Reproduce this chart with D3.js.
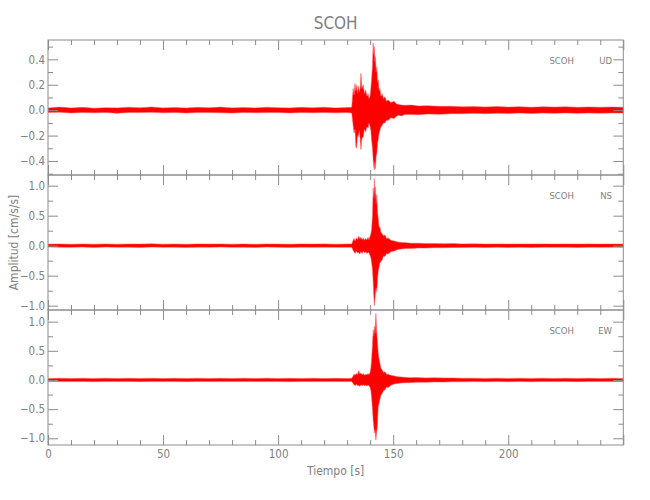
<!DOCTYPE html>
<html>
<head>
<meta charset="utf-8">
<script src="https://cdn.jsdelivr.net/npm/d3@7"></script>
<style>
  html, body { margin: 0; padding: 0; background: #fff; }
  svg { display: block; }
</style>
</head>
<body>
<svg id="chart" width="650" height="500"></svg>
<script>
// ---------------- data ----------------
const title = "SCOH";
const station = "SCOH";
const components = ["UD", "NS", "EW"];
const xTitle = "Tiempo [s]";
const yTitle = "Amplitud [cm/s/s]";
const xDomain = [0, 250];
const xTickLabels = [0, 50, 100, 150, 200];
const xMajorTicks = [0, 50, 100, 150, 200, 250];
const xMinorStep = 10;

const udDomain = [-0.51, 0.552];
const nsDomain = [-1.072, 1.178];
const ewDomain = [-1.115, 1.2];
const udTicks = [-0.4, -0.2, 0.0, 0.2, 0.4];
const nsTicks = [-1.0, -0.5, 0.0, 0.5, 1.0];
const ewTicks = [-1.0, -0.5, 0.0, 0.5, 1.0];
const udMinor = [-0.5, -0.3, -0.1, 0.1, 0.3, 0.5];
const nsMinor = [-0.75, -0.25, 0.25, 0.75];
const ewMinor = [-0.75, -0.25, 0.25, 0.75];

// envelopes: [time s, upper, lower]
const udEnvelope = [
  [0,0.018,-0.018],[5,0.024,-0.016],[10,0.018,-0.022],[15,0.022,-0.018],[20,0.016,-0.02],
  [25,0.02,-0.018],[30,0.018,-0.024],[35,0.023,-0.018],[40,0.019,-0.019],[45,0.025,-0.017],
  [50,0.018,-0.021],[55,0.021,-0.018],[60,0.017,-0.022],[65,0.022,-0.019],[70,0.019,-0.018],
  [75,0.024,-0.02],[80,0.018,-0.023],[85,0.021,-0.018],[90,0.018,-0.02],[95,0.023,-0.019],
  [100,0.02,-0.018],[105,0.018,-0.022],[110,0.022,-0.018],[115,0.019,-0.02],[120,0.023,-0.018],
  [125,0.018,-0.021],[130,0.021,-0.019],[132,0.023,-0.022],
  [132.6,0.17,-0.12],[133,0.12,-0.18],[133.4,0.21,-0.15],[133.8,0.15,-0.29],[134.1,0.2,-0.3],
  [134.5,0.13,-0.2],[134.8,0.19,-0.21],[135.3,0.14,-0.16],[135.7,0.18,-0.24],[136,0.29,-0.31],
  [136.4,0.17,-0.22],[137,0.2,-0.21],[137.5,0.13,-0.15],[138,0.16,-0.17],[138.6,0.11,-0.13],
  [139.1,0.13,-0.14],[139.5,0.09,-0.1],[139.9,0.105,-0.12],[140.3,0.17,-0.16],[140.6,0.24,-0.23],
  [141,0.35,-0.3],[141.3,0.53,-0.39],[141.6,0.44,-0.45],[141.8,0.5,-0.47],[142.1,0.38,-0.41],
  [142.3,0.42,-0.46],[142.6,0.3,-0.36],[142.9,0.34,-0.34],[143.2,0.22,-0.26],[143.5,0.24,-0.23],
  [143.9,0.15,-0.18],[144.2,0.17,-0.16],[144.7,0.11,-0.13],[145.2,0.13,-0.12],[145.8,0.09,-0.1],
  [146.4,0.105,-0.1],[147.1,0.07,-0.08],[147.8,0.08,-0.08],[149,0.06,-0.06],[150.4,0.07,-0.065],
  [151.3,0.05,-0.05],[152.2,0.045,-0.04],[153.6,0.04,-0.045],[155,0.038,-0.035],[158,0.04,-0.035],
  [161,0.033,-0.036],[165,0.035,-0.03],[170,0.03,-0.033],[175,0.031,-0.028],[180,0.026,-0.028],
  [185,0.028,-0.025],[190,0.025,-0.028],[195,0.028,-0.024],[200,0.024,-0.026],[205,0.027,-0.023],
  [210,0.023,-0.026],[215,0.026,-0.023],[220,0.024,-0.025],[225,0.026,-0.022],[230,0.023,-0.025],
  [235,0.025,-0.023],[240,0.023,-0.024],[245,0.025,-0.022],[250,0.023,-0.023]
];
const nsEnvelope = [
  [0,0.026,-0.023],[5,0.03,-0.025],[10,0.024,-0.028],[15,0.028,-0.024],[20,0.025,-0.029],
  [25,0.029,-0.024],[30,0.024,-0.027],[35,0.028,-0.025],[40,0.026,-0.03],[45,0.031,-0.024],
  [50,0.025,-0.027],[55,0.028,-0.025],[60,0.024,-0.029],[65,0.029,-0.025],[70,0.026,-0.026],
  [75,0.03,-0.024],[80,0.025,-0.028],[85,0.028,-0.026],[90,0.024,-0.029],[95,0.029,-0.024],
  [100,0.026,-0.027],[105,0.025,-0.029],[110,0.029,-0.025],[115,0.026,-0.028],[120,0.03,-0.025],
  [125,0.025,-0.028],[130,0.028,-0.026],[132,0.03,-0.028],
  [132.6,0.09,-0.08],[133,0.12,-0.1],[133.5,0.08,-0.13],[134,0.13,-0.09],[134.5,0.1,-0.12],
  [135,0.16,-0.11],[135.5,0.11,-0.14],[136,0.14,-0.1],[136.5,0.1,-0.13],[137,0.13,-0.09],
  [137.5,0.09,-0.12],[138,0.12,-0.1],[138.6,0.1,-0.13],[139.1,0.14,-0.11],[139.5,0.1,-0.12],
  [139.9,0.15,-0.16],[140.3,0.2,-0.2],[140.6,0.26,-0.27],[141,0.5,-0.4],[141.3,0.96,-0.6],
  [141.6,0.8,-0.85],[141.8,1.12,-1.0],[142.1,0.85,-0.88],[142.3,0.98,-0.79],[142.6,0.7,-0.7],
  [142.9,0.85,-0.77],[143.2,0.55,-0.55],[143.5,0.46,-0.43],[143.9,0.3,-0.35],[144.2,0.32,-0.29],
  [144.7,0.22,-0.26],[145.2,0.2,-0.24],[145.8,0.16,-0.17],[146.4,0.18,-0.18],[147.1,0.12,-0.13],
  [147.8,0.13,-0.14],[149,0.09,-0.1],[150.4,0.08,-0.09],[152,0.06,-0.065],[153.6,0.055,-0.055],
  [155.5,0.05,-0.045],[158,0.04,-0.045],[161,0.042,-0.038],[164,0.035,-0.04],[168,0.038,-0.033],
  [172,0.032,-0.035],[176,0.035,-0.03],[180,0.03,-0.032],[185,0.031,-0.027],[190,0.027,-0.03],
  [195,0.03,-0.026],[200,0.026,-0.029],[205,0.029,-0.027],[210,0.027,-0.03],[215,0.03,-0.026],
  [220,0.026,-0.028],[225,0.029,-0.026],[230,0.027,-0.029],[235,0.029,-0.026],[240,0.026,-0.028],
  [245,0.029,-0.026],[250,0.027,-0.027]
];
const ewEnvelope = [
  [0,0.025,-0.024],[5,0.029,-0.026],[10,0.024,-0.028],[15,0.028,-0.024],[20,0.026,-0.029],
  [25,0.03,-0.025],[30,0.025,-0.027],[35,0.028,-0.024],[40,0.026,-0.029],[45,0.029,-0.025],
  [50,0.024,-0.028],[55,0.028,-0.026],[60,0.025,-0.029],[65,0.029,-0.024],[70,0.026,-0.027],
  [75,0.028,-0.025],[80,0.025,-0.028],[85,0.029,-0.026],[90,0.026,-0.028],[95,0.03,-0.025],
  [100,0.025,-0.027],[105,0.028,-0.029],[110,0.026,-0.025],[115,0.029,-0.027],[120,0.025,-0.028],
  [125,0.028,-0.026],[130,0.026,-0.028],[132,0.029,-0.027],
  [132.6,0.07,-0.06],[133,0.1,-0.08],[133.5,0.08,-0.1],[134,0.11,-0.07],[134.5,0.09,-0.1],
  [135,0.16,-0.09],[135.5,0.1,-0.11],[136,0.12,-0.08],[136.5,0.09,-0.1],[137,0.11,-0.08],
  [137.5,0.08,-0.1],[138,0.1,-0.09],[138.6,0.09,-0.1],[139.1,0.11,-0.09],[139.5,0.09,-0.1],
  [139.9,0.12,-0.12],[140.3,0.2,-0.18],[140.6,0.34,-0.29],[141,0.6,-0.5],[141.3,0.86,-0.69],
  [141.6,0.75,-0.8],[141.8,0.92,-0.91],[142.1,0.8,-0.85],[142.5,1.14,-1.03],[142.8,0.85,-0.9],
  [143.1,0.69,-0.8],[143.5,0.46,-0.46],[143.9,0.35,-0.4],[144.2,0.29,-0.34],[144.7,0.2,-0.26],
  [145.2,0.17,-0.23],[145.8,0.13,-0.18],[146.4,0.14,-0.17],[147.1,0.1,-0.12],[147.8,0.1,-0.13],
  [149,0.08,-0.09],[150.4,0.07,-0.07],[152,0.055,-0.06],[153.6,0.05,-0.05],[155,0.045,-0.048],
  [157,0.04,-0.046],[160,0.042,-0.04],[164,0.036,-0.04],[168,0.038,-0.034],[172,0.033,-0.036],
  [176,0.035,-0.03],[180,0.03,-0.032],[185,0.03,-0.027],[190,0.027,-0.03],[195,0.03,-0.026],
  [200,0.026,-0.029],[205,0.029,-0.027],[210,0.027,-0.03],[215,0.03,-0.026],[220,0.026,-0.028],
  [225,0.029,-0.026],[230,0.027,-0.029],[235,0.029,-0.026],[240,0.026,-0.028],[245,0.029,-0.026],
  [250,0.027,-0.027]
];

// ---------------- layout ----------------
const W = 650, H = 500;
const left = 48, right = 623.3;
const panelTops = [40, 175, 310];
const panelH = 135;
const FONT = "'Liberation Sans Narrow', 'DejaVu Sans Condensed', 'Liberation Sans', sans-serif";
const TXT = "#808080";
const AX = "#8c8c8c";
const RED = "#ff0000";

const svg = d3.select("#chart");
svg.append("rect").attr("width", W).attr("height", H).attr("fill", "#fff");

const x = d3.scaleLinear().domain(xDomain).range([left, right]);
const xMinor = d3.range(xDomain[0], xDomain[1] + 0.001, xMinorStep).filter(v => v % 50 !== 0);

const panels = [
  { comp: components[0], env: udEnvelope, dom: udDomain, ticks: udTicks, minor: udMinor, fmt: d3.format(".1f") },
  { comp: components[1], env: nsEnvelope, dom: nsDomain, ticks: nsTicks, minor: nsMinor, fmt: d3.format(".1f") },
  { comp: components[2], env: ewEnvelope, dom: ewDomain, ticks: ewTicks, minor: ewMinor, fmt: d3.format(".1f") }
];

function styleAxis(g) {
  g.select(".domain").remove();
  g.selectAll(".tick line").attr("stroke", AX).attr("stroke-width", 1);
  g.selectAll("text").attr("fill", TXT).attr("font-family", FONT).attr("font-size", 11.5);
  g.attr("font-family", FONT);
}

panels.forEach((p, i) => {
  const top = panelTops[i], bottom = top + panelH;
  const y = d3.scaleLinear().domain(p.dom).range([bottom, top]);
  const g = svg.append("g");

  const clipId = "clip" + i;
  svg.append("clipPath").attr("id", clipId)
    .append("rect").attr("x", left).attr("y", top).attr("width", right - left).attr("height", panelH);

  const area = d3.area()
    .x(d => x(d[0]))
    .y0(d => y(d[2]))
    .y1(d => y(d[1]));

  g.append("path")
    .datum(p.env)
    .attr("clip-path", `url(#${clipId})`)
    .attr("d", area)
    .attr("fill", RED)
    .attr("stroke", "#ff5a5a")
    .attr("stroke-width", 0.5)
    .attr("stroke-linejoin", "round");

  // box
  g.append("rect")
    .attr("x", left).attr("y", top)
    .attr("width", right - left).attr("height", panelH)
    .attr("fill", "none").attr("stroke", AX).attr("stroke-width", 1);

  // y axes
  g.append("g").attr("transform", `translate(${left},0)`)
    .call(d3.axisLeft(y).tickValues(p.ticks).tickSize(-10).tickPadding(3).tickFormat(p.fmt))
    .call(styleAxis);
  g.append("g").attr("transform", `translate(${left},0)`)
    .call(d3.axisLeft(y).tickValues(p.minor).tickSize(-5).tickFormat(""))
    .call(styleAxis);
  g.append("g").attr("transform", `translate(${right},0)`)
    .call(d3.axisRight(y).tickValues(p.ticks).tickSize(-10).tickFormat(""))
    .call(styleAxis);
  g.append("g").attr("transform", `translate(${right},0)`)
    .call(d3.axisRight(y).tickValues(p.minor).tickSize(-5).tickFormat(""))
    .call(styleAxis);

  // x axes (top + bottom of each panel)
  g.append("g").attr("transform", `translate(0,${top})`)
    .call(d3.axisTop(x).tickValues(xMajorTicks).tickSize(-10).tickFormat(""))
    .call(styleAxis);
  g.append("g").attr("transform", `translate(0,${top})`)
    .call(d3.axisTop(x).tickValues(xMinor).tickSize(-5).tickFormat(""))
    .call(styleAxis);
  const isLast = i === panels.length - 1;
  g.append("g").attr("transform", `translate(0,${bottom})`)
    .call(d3.axisBottom(x).tickValues(xMajorTicks).tickSize(-10).tickPadding(4.5)
      .tickFormat(d => (isLast && xTickLabels.includes(d)) ? d3.format("d")(d) : ""))
    .call(styleAxis);
  g.append("g").attr("transform", `translate(0,${bottom})`)
    .call(d3.axisBottom(x).tickValues(xMinor).tickSize(-5).tickFormat(""))
    .call(styleAxis);

  // station / component label
  g.append("text")
    .attr("x", 574).attr("y", top + 24)
    .attr("text-anchor", "end")
    .attr("font-family", FONT).attr("font-size", 9.5).attr("fill", TXT)
    .text(station);
  g.append("text")
    .attr("x", 612).attr("y", top + 24)
    .attr("text-anchor", "end")
    .attr("font-family", FONT).attr("font-size", 9.5).attr("fill", TXT)
    .text(p.comp);
});

// title
svg.append("text")
  .attr("x", (left + right) / 2).attr("y", 29)
  .attr("text-anchor", "middle")
  .attr("font-family", FONT).attr("font-size", 17).attr("fill", TXT)
  .text(title);

// axis titles
svg.append("text")
  .attr("x", (left + right) / 2).attr("y", 475)
  .attr("text-anchor", "middle")
  .attr("font-family", FONT).attr("font-size", 12).attr("fill", TXT)
  .text(xTitle);

svg.append("text")
  .attr("transform", `translate(18,242.5) rotate(-90)`)
  .attr("text-anchor", "middle")
  .attr("font-family", FONT).attr("font-size", 12).attr("fill", TXT)
  .text(yTitle);
</script>
</body>
</html>
